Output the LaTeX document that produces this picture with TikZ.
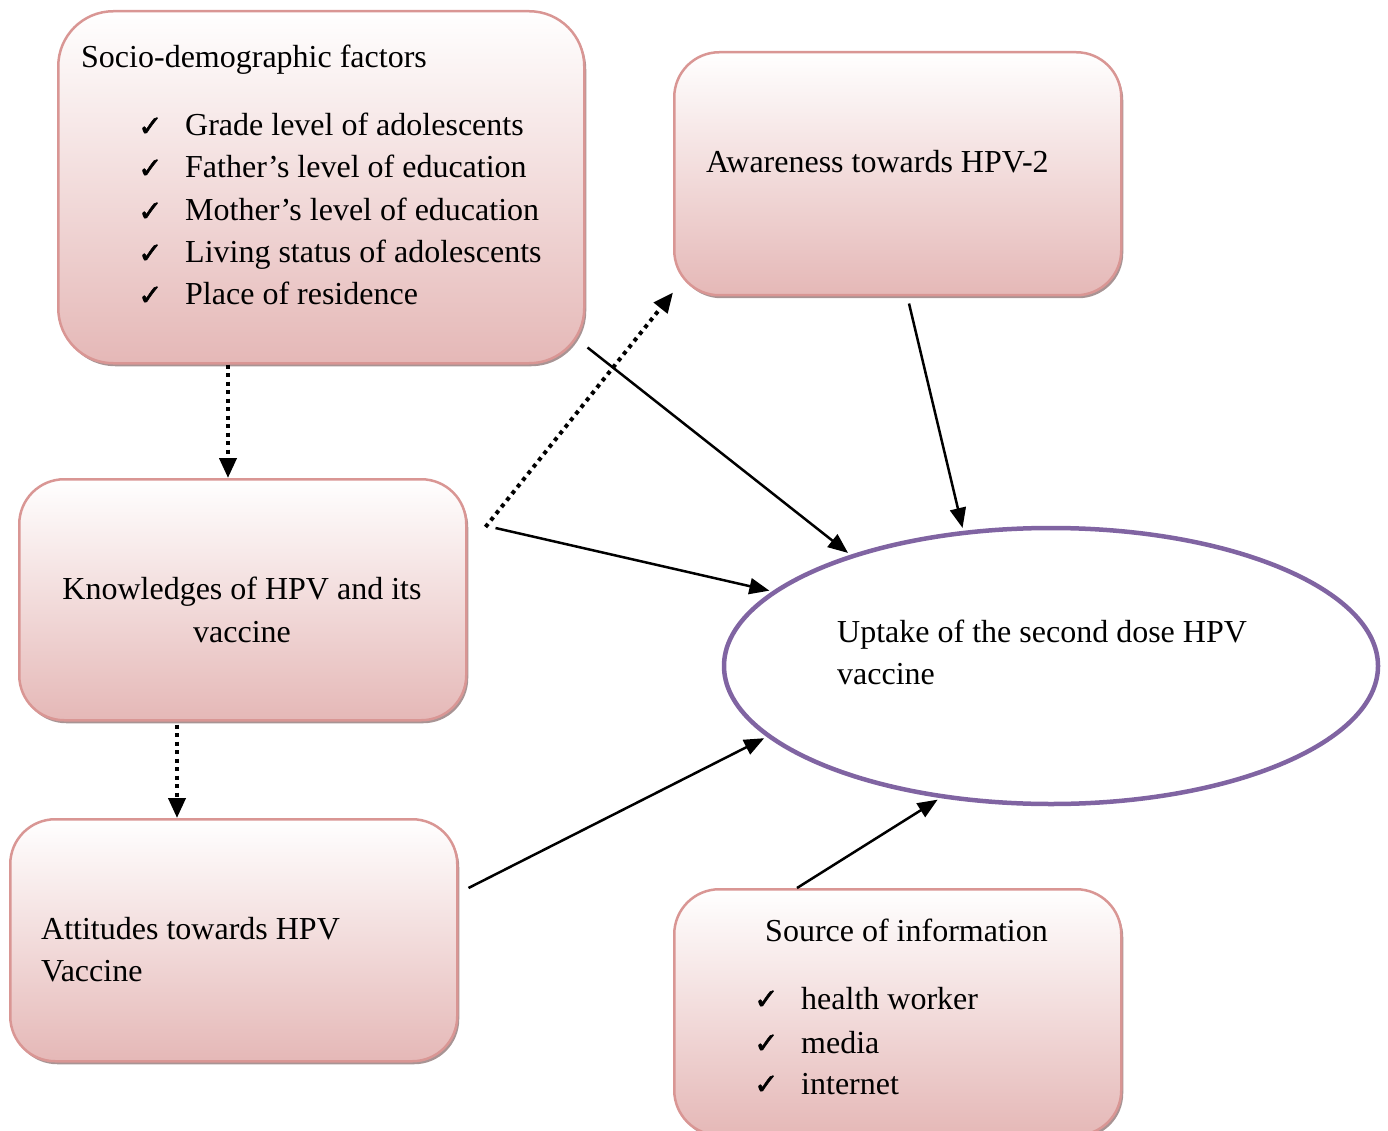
\documentclass[tikz,border=0pt]{standalone}
\usepackage{fontspec}
\setmainfont{Liberation Serif}
\newfontfamily\symf[FakeBold=1.8]{DejaVu Sans}
\usetikzlibrary{arrows.meta,shapes.geometric,shadows,calc}
\definecolor{pinkb}{HTML}{E5B8B7}
\definecolor{pinkedge}{HTML}{D99694}
\definecolor{shadowc}{HTML}{A89494}
\definecolor{purp}{HTML}{8064A2}
\tikzset{
  box/.style={draw=pinkedge, line width=2.5pt, top color=white, bottom color=pinkb,
    general shadow={fill=shadowc, shadow xshift=2pt, shadow yshift=-3pt},
    inner sep=0pt, anchor=north west},
  txt/.style={anchor=base west, inner sep=0pt, font=\fontsize{32}{42}\selectfont},
  ctxt/.style={anchor=base, inner sep=0pt, font=\fontsize{32}{42}\selectfont},
  ck/.style={anchor=base west, inner sep=0pt, font=\symf\fontsize{29}{32}\selectfont},
  solidarrow/.style={line width=2.5pt, -{Triangle[length=20pt,width=16pt]}},
  dotarrow/.style={line width=4pt, dash pattern=on 4pt off 4.5pt, -{Triangle[length=20pt,width=17pt]}}
}
\begin{document}
\begin{tikzpicture}[x=1pt,y=-1pt]
\useasboundingbox (0,0) rectangle (1388,1131);
% boxes
\node[box, rounded corners=55pt, minimum width=526pt, minimum height=352pt] (soc) at (57,10) {};
\node[box, rounded corners=45pt, minimum width=447pt, minimum height=243pt] (awr) at (673,51) {};
\node[box, rounded corners=45pt, minimum width=447pt, minimum height=241pt] (kn) at (18,478) {};
\node[box, rounded corners=45pt, minimum width=447pt, minimum height=242pt] (att) at (9,818) {};
\node[box, rounded corners=45pt, minimum width=447pt, minimum height=246pt] (src) at (673,888) {};
\node[draw=purp, line width=4.5pt, ellipse, minimum width=654pt, minimum height=276pt, inner sep=0pt, fill=white] (upt) at (1051,666) {};

% socio text
\node[txt] (s0) at (81,68) {Socio-demographic factors};
\node[ck] (c1) at (138,136) {✓}; \node[txt] (s1) at (185,136) {Grade level of adolescents};
\node[ck] (c2) at (138,178) {✓}; \node[txt] (s2) at (185,178) {Father’s level of education};
\node[ck] (c3) at (138,221) {✓}; \node[txt] (s3) at (185,221) {Mother’s level of education};
\node[ck] (c4) at (138,263) {✓}; \node[txt] (s4) at (185,263) {Living status of adolescents};
\node[ck] (c5) at (138,305) {✓}; \node[txt] (s5) at (185,305) {Place of residence};

% awareness
\node[txt] (a0) at (706,173) {Awareness towards HPV-2};
% knowledge
\node[ctxt] (k1) at (242,599) {Knowledges of HPV and its};
\node[ctxt] (k2) at (242,642) {vaccine};
% attitudes
\node[txt] (t1) at (41,939) {Attitudes towards HPV};
\node[txt] (t2) at (41,981) {Vaccine};
% source
\node[txt] (r0) at (765,941) {Source of information};
\node[ck] (d1) at (754,1009) {✓}; \node[txt] (r1) at (801,1009) {health worker};
\node[ck] (d2) at (754,1053) {✓}; \node[txt] (r2) at (801,1053) {media};
\node[ck] (d3) at (754,1094) {✓}; \node[txt] (r3) at (801,1094) {internet};
% uptake
\node[txt] (u1) at (837,642) {Uptake of the second dose HPV};
\node[txt] (u2) at (837,684) {vaccine};

% connectors
\draw[dotarrow] ($(soc.south west)+(171,0)$) -- ($(kn.north west)+(210,0)$);
\draw[dotarrow] ($(kn.south west)+(159,3)$) -- ($(att.north west)+(168,0)$);
\draw[dotarrow] ($(kn.north east)+(18,49)$) -- ($(awr.south west)+(0,-4)$);
\draw[solidarrow, shorten >=3pt] ($(soc.south east)+(2,-17)$) -- (upt.151.7);
\draw[solidarrow, shorten >=3pt] ($(awr.south west)+(236,7)$) -- (upt.123.2);
\draw[solidarrow, shorten >=3pt] ($(kn.north east)+(28,50)$) -- (upt.165.5);
\draw[solidarrow, shorten >=3pt] ($(att.north east)+(10,70)$) -- (upt.194.4);
\draw[solidarrow, shorten >=3pt] ($(src.north west)+(124,0)$) -- (upt.230.9);
\end{tikzpicture}
\end{document}
